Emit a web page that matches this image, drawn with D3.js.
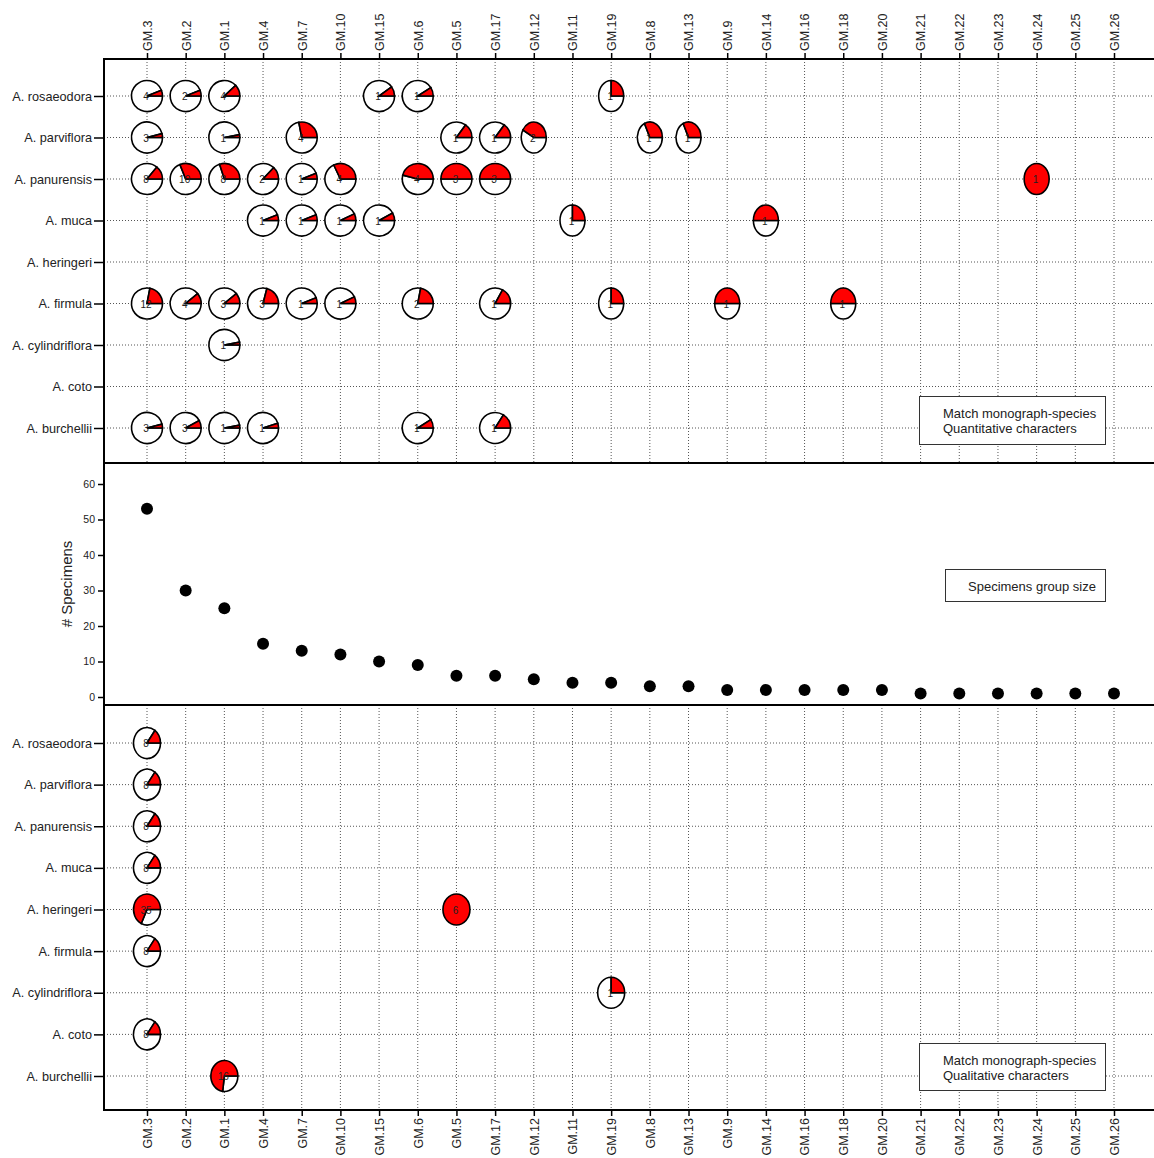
<!DOCTYPE html>
<html>
<head>
<meta charset="utf-8">
<script src="https://cdn.jsdelivr.net/npm/d3@7"></script>
<style>
body { margin: 0; background: #fff; }
text { font-family: "Liberation Sans", Arial, sans-serif; fill: #222; }
</style>
</head>
<body>
<div id="chart"></div>
<script>
var groups = ["GM.3","GM.2","GM.1","GM.4","GM.7","GM.10","GM.15","GM.6","GM.5","GM.17","GM.12","GM.11","GM.19",
	"GM.8","GM.13","GM.9","GM.14","GM.16","GM.18","GM.20","GM.21","GM.22","GM.23","GM.24","GM.25","GM.26"]
var specimens = [53,30,25,15,13,12,10,9,6,6,5,4,4,3,3,2,2,2,2,2,1,1,1,1,1,1]
var species = ["A. rosaeodora","A. parviflora","A. panurensis","A. muca","A. heringeri","A. firmula",
	"A. cylindriflora","A. coto","A. burchellii"]
var yTicks = [0,10,20,30,40,50,60]

// [species, group, count, matched fraction]
var quantPies = [
	["A. rosaeodora","GM.3",4,0.06],["A. rosaeodora","GM.2",2,0.06],["A. rosaeodora","GM.1",4,0.12],
	["A. rosaeodora","GM.15",1,0.10],["A. rosaeodora","GM.6",1,0.09],["A. rosaeodora","GM.19",1,0.25],
	["A. parviflora","GM.3",3,0.04],["A. parviflora","GM.1",1,0.03],["A. parviflora","GM.7",4,0.28],
	["A. parviflora","GM.5",1,0.15],["A. parviflora","GM.17",1,0.15],["A. parviflora","GM.12",2,0.42],
	["A. parviflora","GM.8",1,0.32],["A. parviflora","GM.13",1,0.32],
	["A. panurensis","GM.3",8,0.14],["A. panurensis","GM.2",10,0.31],["A. panurensis","GM.1",8,0.30],
	["A. panurensis","GM.4",2,0.13],["A. panurensis","GM.7",1,0.06],["A. panurensis","GM.10",4,0.32],
	["A. panurensis","GM.6",4,0.46],["A. panurensis","GM.5",3,0.5],["A. panurensis","GM.17",3,0.5],
	["A. panurensis","GM.24",1,1],
	["A. muca","GM.4",1,0.06],["A. muca","GM.7",1,0.06],["A. muca","GM.10",1,0.07],["A. muca","GM.15",1,0.08],
	["A. muca","GM.11",1,0.25],["A. muca","GM.14",1,0.5],
	["A. firmula","GM.3",12,0.22],["A. firmula","GM.2",4,0.11],["A. firmula","GM.1",3,0.11],
	["A. firmula","GM.4",3,0.21],["A. firmula","GM.7",1,0.06],["A. firmula","GM.10",1,0.07],
	["A. firmula","GM.6",2,0.22],["A. firmula","GM.17",1,0.17],["A. firmula","GM.19",1,0.25],
	["A. firmula","GM.9",1,0.5],["A. firmula","GM.18",1,0.5],
	["A. cylindriflora","GM.1",1,0.03],
	["A. burchellii","GM.3",3,0.04],["A. burchellii","GM.2",3,0.08],["A. burchellii","GM.1",1,0.03],
	["A. burchellii","GM.4",1,0.05],["A. burchellii","GM.6",1,0.09],["A. burchellii","GM.17",1,0.16]
]
var qualPies = [
	["A. rosaeodora","GM.3",8,0.15],["A. parviflora","GM.3",8,0.15],["A. panurensis","GM.3",8,0.15],
	["A. muca","GM.3",8,0.15],["A. heringeri","GM.3",35,0.68],["A. heringeri","GM.5",6,1],
	["A. firmula","GM.3",8,0.15],["A. cylindriflora","GM.19",1,0.25],["A. coto","GM.3",8,0.15],
	["A. burchellii","GM.1",16,0.73]
]

var width = 1154, height = 1158
var left = 104, right = 1154
var svg = d3.select("#chart").append("svg").attr("width", width).attr("height", height)

var x = d3.scalePoint().domain(groups).range([147, 1114])
var yTop = d3.scalePoint().domain(species).range([96, 428])
var yBot = d3.scalePoint().domain(species).range([743, 1076])
var yMid = d3.scaleLinear().domain([0, 60]).range([697, 484])

function grid(y0, y1, yScale){
	var g = svg.append("g").attr("stroke", "#555").attr("stroke-width", 1).attr("stroke-dasharray", "1,2")
	g.selectAll(".vg").data(groups).enter().append("line")
		.attr("x1", d => x(d)).attr("x2", d => x(d)).attr("y1", y0).attr("y2", y1)
	g.selectAll(".hg").data(species).enter().append("line")
		.attr("x1", left).attr("x2", right).attr("y1", d => yScale(d)).attr("y2", d => yScale(d))
}
grid(59, 463, yTop)
grid(705, 1110, yBot)

var arc = d3.arc()
// pies from GM.12 on are drawn a bit narrower in the top panel, as in the original figure
function pies(data, yScale, rxFn, ry){
	var g = svg.append("g")
	data.forEach(function(p){
		var cx = x(p[1]), cy = yScale(p[0]), f = p[3], rx = rxFn(p[1])
		var pg = g.append("g").attr("transform", "translate(" + cx + "," + cy + ") scale(" + (rx / ry) + ",1)")
		if (f < 1) pg.append("path")
			.attr("d", arc({innerRadius: 0, outerRadius: ry, startAngle: Math.PI / 2, endAngle: Math.PI * 2.5 - 2 * Math.PI * f}))
			.attr("fill", "#fff").attr("stroke", "#000").attr("stroke-width", 1.6)
			.attr("vector-effect", "non-scaling-stroke")
		if (f > 0) pg.append("path")
			.attr("d", arc({innerRadius: 0, outerRadius: ry, startAngle: Math.PI / 2 - 2 * Math.PI * f, endAngle: Math.PI / 2}))
			.attr("fill", "#ff0000").attr("stroke", "#000").attr("stroke-width", 1.6)
			.attr("vector-effect", "non-scaling-stroke")
		g.append("text").attr("x", cx - 1).attr("y", cy + 4).attr("text-anchor", "middle")
			.attr("font-size", 10).text(p[2])
	})
}
pies(quantPies, yTop, g => groups.indexOf(g) >= 10 ? 12.5 : 15.5, 15.5)
pies(qualPies, yBot, g => 13.5, 15.5)

// middle panel points
svg.append("g").selectAll("circle").data(groups).enter().append("circle")
	.attr("cx", d => x(d)).attr("cy", (d, i) => yMid(specimens[i])).attr("r", 6).attr("fill", "#000")

// axes
svg.append("g").attr("transform", "translate(0,59)")
	.call(d3.axisTop(x).tickSize(6).tickSizeOuter(0))
	.call(g => g.select(".domain").remove())
	.selectAll("text").attr("transform", "rotate(-90)").attr("text-anchor", "start")
	.attr("x", 8).attr("y", 0).attr("dy", "0.35em").attr("font-size", 12.5)
svg.append("g").attr("transform", "translate(0,1110)")
	.call(d3.axisBottom(x).tickSize(6).tickSizeOuter(0))
	.call(g => g.select(".domain").remove())
	.selectAll("text").attr("transform", "rotate(-90)").attr("text-anchor", "end")
	.attr("x", -8).attr("y", 0).attr("dy", "0.35em").attr("font-size", 12.5)
;[yTop, yBot].forEach(function(s){
	svg.append("g").attr("transform", "translate(" + left + ",0)")
		.call(d3.axisLeft(s).tickSize(10).tickSizeOuter(0))
		.call(g => g.select(".domain").remove())
		.selectAll("text").attr("font-size", 12.7).attr("x", -12)
})
svg.append("g").attr("transform", "translate(" + left + ",0)")
	.call(d3.axisLeft(yMid).tickValues(yTicks).tickSize(6).tickSizeOuter(0))
	.call(g => g.select(".domain").remove())
	.selectAll("text").attr("font-size", 10.5).attr("x", -9)
svg.selectAll(".tick line").attr("stroke", "#000").attr("stroke-width", 1.5)
svg.append("text").attr("transform", "translate(72,584) rotate(-90)").attr("text-anchor", "middle")
	.attr("font-size", 15).text("# Specimens")

// frame
var frame = svg.append("g").attr("stroke", "#000").attr("stroke-width", 2)
frame.append("line").attr("x1", left).attr("x2", left).attr("y1", 59).attr("y2", 1110)
;[59, 463, 705, 1110].forEach(function(yy){
	frame.append("line").attr("x1", left - 1).attr("x2", right).attr("y1", yy).attr("y2", yy)
})

// legends
function legend(x0, y0, w, h, lines, tx){
	svg.append("rect").attr("x", x0).attr("y", y0).attr("width", w).attr("height", h)
		.attr("fill", "#fff").attr("stroke", "#333").attr("stroke-width", 1)
	lines.forEach(function(t, i){
		svg.append("text").attr("x", tx).attr("y", y0 + (lines.length > 1 ? 21 : 21.5) + i * 15.5)
			.attr("font-size", 13).text(t)
	})
}
legend(919.5, 396.5, 186, 48, ["Match monograph-species", "Quantitative characters"], 943)
legend(945.5, 569.5, 160, 32, ["Specimens group size"], 968)
legend(919.5, 1043.5, 186, 47, ["Match monograph-species", "Qualitative characters"], 943)
</script>
</body>
</html>
